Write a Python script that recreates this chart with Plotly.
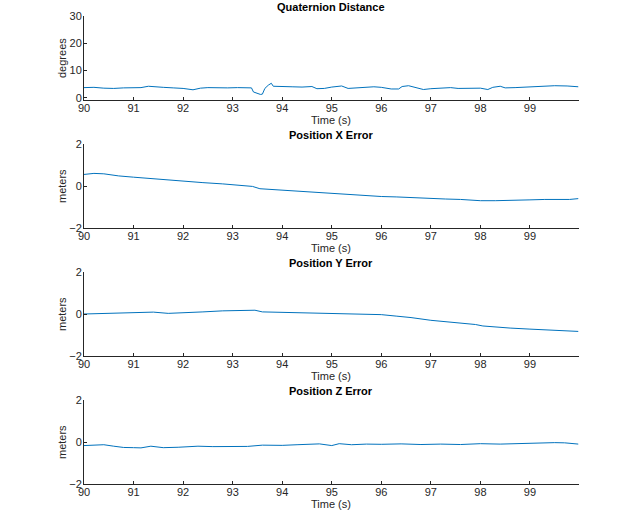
import plotly.graph_objects as go

# ---- data ----
t_q = [90.0, 90.2, 90.4, 90.6, 90.8, 91.0, 91.15, 91.3, 91.45, 91.6, 91.8, 92.0, 92.2, 92.35, 92.5,
       92.7, 92.9, 93.1, 93.3, 93.38, 93.42, 93.5, 93.56, 93.6, 93.65, 93.72, 93.78, 93.82, 94.0,
       94.2, 94.4, 94.6, 94.7, 94.85, 95.0, 95.2, 95.33, 95.45, 95.6, 95.85, 96.0, 96.2, 96.35,
       96.42, 96.55, 96.7, 96.85, 97.0, 97.2, 97.4, 97.55, 97.7, 98.0, 98.15, 98.25, 98.4, 98.5,
       98.7, 99.0, 99.3, 99.5, 99.75, 99.98]
q_dist = [3.7, 3.8, 3.5, 3.4, 3.6, 3.8, 3.7, 4.2, 3.9, 3.8, 3.6, 3.4, 2.9, 3.5, 3.7,
          3.6, 3.6, 3.7, 3.7, 3.6, 2.1, 1.6, 1.2, 1.3, 3.4, 4.6, 5.3, 4.2, 4.0,
          4.0, 3.9, 4.1, 3.3, 3.4, 3.9, 4.3, 3.4, 3.5, 3.8, 4.0, 3.8, 3.2, 3.2,
          4.1, 4.4, 3.6, 3.0, 3.3, 3.4, 3.7, 3.4, 3.5, 3.5, 3.0, 3.8, 4.2, 3.6,
          3.7, 4.0, 4.1, 4.4, 4.3, 4.0]

t_x = [90.0, 90.2, 90.4, 90.7, 91.0, 91.3, 91.6, 92.0, 92.4, 92.8, 93.0, 93.2, 93.4, 93.55,
       93.8, 94.0, 94.3, 94.6, 95.0, 95.3, 95.6, 96.0, 96.3, 96.6, 97.0, 97.3, 97.6, 98.0,
       98.3, 98.6, 99.0, 99.3, 99.6, 99.8, 99.98]
pos_x = [0.55, 0.6, 0.58, 0.48, 0.42, 0.36, 0.32, 0.22, 0.16, 0.1, 0.06, 0.03, -0.02, -0.13,
         -0.17, -0.2, -0.23, -0.27, -0.33, -0.38, -0.44, -0.5, -0.52, -0.56, -0.6, -0.62, -0.64, -0.7,
         -0.7, -0.67, -0.66, -0.64, -0.66, -0.64, -0.6]

t_y = [90.0, 90.3, 90.6, 91.0, 91.4, 91.7, 92.0, 92.4, 92.8, 93.0, 93.3, 93.45, 93.6, 94.0,
       94.5, 95.0, 95.5, 96.0, 96.3, 96.6, 97.0, 97.3, 97.6, 97.9, 98.05, 98.3, 98.6, 99.0,
       99.3, 99.6, 99.8, 99.98]
pos_y = [0.0, 0.02, 0.04, 0.06, 0.09, 0.03, 0.05, 0.1, 0.15, 0.17, 0.19, 0.18, 0.1, 0.08,
         0.06, 0.03, 0.0, -0.03, -0.1, -0.17, -0.3, -0.36, -0.42, -0.5, -0.57, -0.62, -0.67, -0.72,
         -0.75, -0.8, -0.8, -0.83]

t_z = [90.0, 90.2, 90.4, 90.6, 90.8, 91.0, 91.15, 91.35, 91.6, 91.9, 92.3, 92.6, 93.0, 93.3,
       93.6, 94.0, 94.3, 94.5, 94.75, 95.0, 95.15, 95.4, 95.7, 96.0, 96.4, 96.8, 97.2, 97.6,
       98.0, 98.4, 98.8, 99.2, 99.5, 99.7, 99.98]
pos_z = [-0.17, -0.16, -0.13, -0.2, -0.26, -0.27, -0.28, -0.2, -0.27, -0.25, -0.2, -0.22, -0.23, -0.21,
         -0.15, -0.16, -0.13, -0.12, -0.09, -0.17, -0.08, -0.13, -0.1, -0.11, -0.09, -0.12, -0.1, -0.12,
         -0.08, -0.1, -0.07, -0.06, -0.03, -0.04, -0.1]

titles = ["Quaternion Distance", "Position X Error", "Position Y Error", "Position Z Error"]
ylabels = ["degrees", "meters", "meters", "meters"]
xticks = [90, 91, 92, 93, 94, 95, 96, 97, 98, 99]
yticks_q = [0, 10, 20, 30]
yticks_p = [-2, 0, 2]

series = [(t_q, q_dist), (t_x, pos_x), (t_y, pos_y), (t_z, pos_z)]

W, H = 640, 512
left_px, right_px = 84, 578.5
panels_px = [(16, 100), (144, 228), (272, 356), (400, 484)]  # top, bottom
yranges = [[-0.85, 30], [-2, 2], [-2, 2], [-2, 2]]

fig = go.Figure()
FONT = "Liberation Sans, Arial, sans-serif"
TXT = "#262626"

for i, ((tx, ty), (top, bot)) in enumerate(zip(series, panels_px)):
    n = i + 1
    xa = "x" if n == 1 else f"x{n}"
    ya = "y" if n == 1 else f"y{n}"
    fig.add_trace(go.Scatter(x=tx, y=ty, mode="lines", line=dict(color="#0072BD", width=1),
                             xaxis=xa, yaxis=ya, showlegend=False, hoverinfo="skip"))
    axis_common = dict(showline=True, linecolor=TXT, linewidth=1, ticks="inside", ticklen=3,
                       tickcolor=TXT, showgrid=False, zeroline=False, automargin=False,
                       tickfont=dict(family=FONT, size=11, color=TXT))
    fig.layout[f"xaxis{n if n > 1 else ''}"] = dict(
        axis_common, domain=[left_px / W, right_px / W], range=[90, 99.98],
        tickvals=xticks, anchor=ya, ticklabelstandoff=-2)
    fig.layout[f"yaxis{n if n > 1 else ''}"] = dict(
        axis_common, domain=[1 - bot / H, 1 - top / H], range=yranges[i],
        tickvals=yticks_q if i == 0 else yticks_p, anchor=xa, ticklabelstandoff=-1)
    cx = (left_px + right_px) / 2 / W
    ann = dict(xref="paper", yref="paper", showarrow=False, xanchor="center", yanchor="middle")
    fig.add_annotation(text="<b>" + titles[i] + "</b>", x=cx, y=1 - (top - 9) / H,
                       font=dict(family=FONT, size=11, color="#000000"), **ann)
    fig.add_annotation(text="Time (s)", x=cx, y=1 - (bot + 20) / H,
                       font=dict(family=FONT, size=11, color=TXT), **ann)
    fig.add_annotation(text=ylabels[i], x=62 / W, y=1 - (top + bot) / 2 / H, textangle=-90,
                       font=dict(family=FONT, size=11, color=TXT), **ann)

fig.update_layout(width=W, height=H, margin=dict(l=0, r=0, t=0, b=0, pad=0),
                  paper_bgcolor="white", plot_bgcolor="white")
fig.write_html("out.html", config={"displayModeBar": False},
               post_script="document.body.style.margin='0';")
